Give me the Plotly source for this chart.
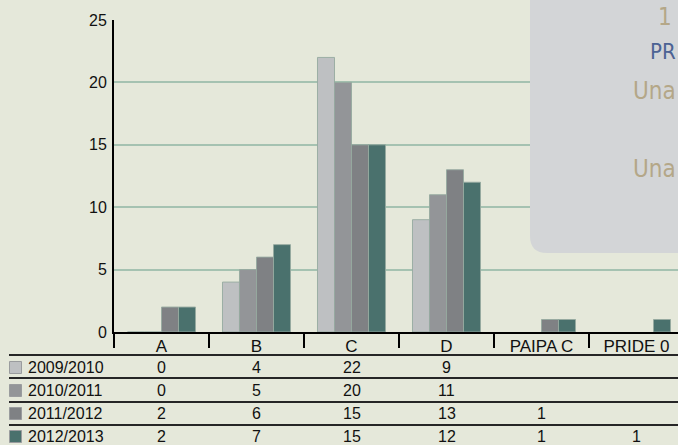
import plotly.graph_objects as go

categories = ["A", "B", "C", "D", "PAIPA C", "PRIDE 0"]
series_names = ["2009/2010", "2010/2011", "2011/2012", "2012/2013"]
v_2009_2010 = [0, 4, 22, 9, None, None]
v_2010_2011 = [0, 5, 20, 11, None, None]
v_2011_2012 = [2, 6, 15, 13, 1, None]
v_2012_2013 = [2, 7, 15, 12, 1, 1]
y_ticks = [0, 5, 10, 15, 20, 25]
box_lines = ["1", "PR", "Una", "Una"]

series_values = [v_2009_2010, v_2010_2011, v_2011_2012, v_2012_2013]
colors = ["#bec0c2", "#939598", "#7f8184", "#4a716d"]

W, H = 678, 445
ML, MR, MT, MB = 114, 0, 20, 113
PW = W - ML - MR
PH = H - MT - MB
CAT_W = 95.0


def px2x(px):
    return (px - ML) / PW


def py2y(py):
    return (MT + PH - py) / PH


fig = go.Figure()
for name, vals, col in zip(series_names, series_values, colors):
    fig.add_trace(go.Bar(
        x=categories, y=vals, name=name,
        marker=dict(color=col, line=dict(color="rgba(150,170,160,0.9)", width=1)),
        showlegend=False,
    ))

shapes = []
annotations = []

# data table
row_lines = [355, 378, 402, 425]
row_centers = [367.5, 390.5, 413.5, 436.5]
for i, (name, vals, col) in enumerate(zip(series_names, series_values, colors)):
    shapes.append(dict(type="line", xref="paper", yref="paper",
                       x0=px2x(9), x1=px2x(700), y0=py2y(row_lines[i]), y1=py2y(row_lines[i]),
                       line=dict(color="#262626", width=2)))
    yc = row_centers[i]
    shapes.append(dict(type="rect", xref="paper", yref="paper",
                       x0=px2x(9.5), x1=px2x(21.5), y0=py2y(yc - 6), y1=py2y(yc + 6),
                       fillcolor=col, line=dict(color="#9a9c9e", width=1)))
    annotations.append(dict(xref="paper", yref="paper", x=px2x(26), y=py2y(yc),
                            xanchor="left", yanchor="middle", text=name, showarrow=False,
                            font=dict(family="Arial, Liberation Sans", size=16, color="#111111")))
    for c, v in zip(categories, vals):
        if v is None:
            continue
        annotations.append(dict(xref="x", yref="paper", x=c, y=py2y(yc),
                                xanchor="center", yanchor="middle", text=str(v), showarrow=False,
                                font=dict(family="Arial, Liberation Sans", size=16, color="#111111")))

# overlay box (rounded bottom-left corner)
bx0, bx1 = px2x(530), px2x(700)
byt, byb = py2y(-20), py2y(253)
rx, ry = 17 / PW, 17 / PH
path = (f"M {bx0},{byt} L {bx0},{byb + ry} Q {bx0},{byb} {bx0 + rx},{byb} "
        f"L {bx1},{byb} L {bx1},{byt} Z")
shapes.append(dict(type="path", xref="paper", yref="paper", path=path,
                   fillcolor="#d3d5d7", line=dict(width=0), layer="above"))

narrow = "Liberation Sans Narrow, DejaVu Sans Condensed, Roboto Condensed, Roboto"
box_specs = [
    (box_lines[0], 656, 17, "#b4a788", 24),
    (box_lines[1], 648, 51.5, "#4c6394", 22),
    (box_lines[2], 631, 91.5, "#b4a788", 24),
    (box_lines[3], 631, 168.5, "#b4a788", 24),
]
for txt, lx, cy, col, sz in box_specs:
    annotations.append(dict(xref="paper", yref="paper", x=px2x(lx), y=py2y(cy),
                            xanchor="left", yanchor="middle", text=txt, showarrow=False,
                            font=dict(family=narrow, size=sz, color=col, weight=300)))

fig.update_layout(
    width=W, height=H,
    margin=dict(l=ML, r=MR, t=MT, b=MB, pad=0),
    paper_bgcolor="#e5e8da", plot_bgcolor="#e5e8da",
    barmode="group", bargap=0.284, bargroupgap=0,
    shapes=shapes, annotations=annotations,
    xaxis=dict(type="category", range=[-0.5, -0.5 + PW / CAT_W],
               showline=True, linecolor="#000000", linewidth=2,
               ticks="outside", tickson="boundaries", ticklen=14, tickwidth=2, tickcolor="#000000",
               showgrid=False, ticklabelstandoff=-2,
               tickfont=dict(family="Arial, Liberation Sans", size=17, color="#111111")),
    yaxis=dict(range=[0, 25], tickvals=y_ticks, showline=True, linecolor="#000000", linewidth=2,
               gridcolor="#a5c2b1", gridwidth=2, zeroline=False,
               ticks="outside", ticklen=2, tickcolor="rgba(0,0,0,0)",
               tickfont=dict(family="Arial, Liberation Sans", size=16, color="#111111")),
)

fig.write_html("out.html", config={"displayModeBar": False})
with open("out.html", "r", encoding="utf-8") as f:
    html = f.read()
html = html.replace("<head>", "<head><style>html,body{margin:0;padding:0;overflow:hidden;background:#e5e8da;}</style>", 1)
with open("out.html", "w", encoding="utf-8") as f:
    f.write(html)
